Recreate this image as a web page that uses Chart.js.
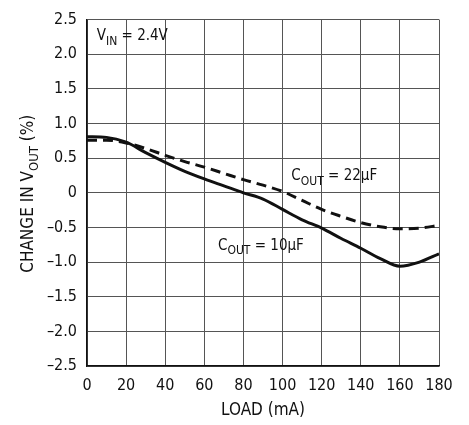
<!DOCTYPE html>
<html lang="en">
<head>
  <meta charset="UTF-8" />
  <title>Change in VOUT vs Load</title>
  <script src="https://cdn.jsdelivr.net/npm/chart.js"></script>
  <style>
    html, body {
      margin: 0;
      padding: 0;
      background: #fff;
    }
    #wrap {
      width: 469px;
      height: 425px;
    }
  </style>
</head>
<body>
  <div id="wrap"><canvas id="loadChart" width="469" height="425"></canvas></div>

  <script>
    // ------------------------------------------
    // Data
    // ------------------------------------------
    const LOADS = [0, 10, 20, 30, 40, 50, 60, 70, 80, 90, 100, 110, 120, 130, 140, 150, 160, 170, 180];
    const COUT_10UF = [0.81, 0.80, 0.73, 0.58, 0.44, 0.31, 0.20, 0.10, 0.00, -0.09, -0.24, -0.39, -0.51, -0.66, -0.80, -0.95, -1.06, -1.00, -0.88];
    const COUT_22UF = [0.76, 0.76, 0.72, 0.64, 0.54, 0.45, 0.37, 0.28, 0.19, 0.11, 0.02, -0.11, -0.24, -0.34, -0.43, -0.49, -0.52, -0.51, -0.47];
    const X_TICKS = [0, 20, 40, 60, 80, 100, 120, 140, 160, 180];
    const Y_TICKS = [-2.5, -2.0, -1.5, -1.0, -0.5, 0, 0.5, 1.0, 1.5, 2.0, 2.5];

    const FONT = '"Liberation Sans Narrow", "DejaVu Sans Condensed", Arial, sans-serif';

    // text labels inside the plot: [main, subscript, rest, x value, y value]
    const LABELS = [
      ['V', 'IN', ' = 2.4V', 5, 2.2],
      ['C', 'OUT', ' = 22µF', 104.5, 0.18],
      ['C', 'OUT', ' = 10µF', 67, -0.82]
    ];

    function toPoints(ys) {
      return LOADS.map((x, i) => ({ x: x, y: ys[i] }));
    }

    // draws "prefix + main + subscript + rest" text at a pixel position
    function drawSubText(ctx, x, y, prefix, main, sub, rest, size, rotate) {
      ctx.save();
      ctx.translate(x, y);
      if (rotate) ctx.rotate(-Math.PI / 2);
      ctx.fillStyle = '#111';
      ctx.textBaseline = 'alphabetic';
      ctx.textAlign = 'left';
      const bigFont = size + 'px ' + FONT;
      const smallFont = Math.round(size * 0.78) + 'px ' + FONT;
      ctx.font = bigFont;
      const w0 = ctx.measureText(prefix).width;
      const w1 = ctx.measureText(main).width;
      const w3 = ctx.measureText(rest).width;
      ctx.font = smallFont;
      const w2 = ctx.measureText(sub).width;
      const total = w0 + w1 + w2 + w3;
      let pos = rotate ? -total / 2 : 0;
      ctx.font = bigFont;
      ctx.fillText(prefix + main, pos, 0);
      pos += w0 + w1;
      ctx.font = smallFont;
      ctx.fillText(sub, pos, size * 0.28);
      pos += w2;
      ctx.font = bigFont;
      ctx.fillText(rest, pos, 0);
      ctx.restore();
    }

    const textPlugin = {
      id: 'textPlugin',
      afterDraw(chart) {
        const ctx = chart.ctx;
        const xs = chart.scales.x;
        const ys = chart.scales.y;
        LABELS.forEach(l => {
          drawSubText(ctx, xs.getPixelForValue(l[3]), ys.getPixelForValue(l[4]), '', l[0], l[1], l[2], 15, false);
        });
        // y axis title with subscript
        const cy = (chart.chartArea.top + chart.chartArea.bottom) / 2 + 1;
        drawSubText(ctx, 33, cy, 'CHANGE IN ', 'V', 'OUT', ' (%)', 17, true);
      }
    };

    window.addEventListener('DOMContentLoaded', () => {
      const ctx = document.getElementById('loadChart').getContext('2d');

      new Chart(ctx, {
        type: 'line',
        data: {
          datasets: [
            {
              label: 'COUT = 10µF',
              data: toPoints(COUT_10UF),
              borderColor: '#111',
              borderWidth: 3,
              pointRadius: 0,
              cubicInterpolationMode: 'monotone',
              fill: false
            },
            {
              label: 'COUT = 22µF',
              data: toPoints(COUT_22UF),
              borderColor: '#111',
              borderWidth: 3,
              borderDash: [10, 6],
              pointRadius: 0,
              cubicInterpolationMode: 'monotone',
              fill: false
            }
          ]
        },
        options: {
          responsive: false,
          animation: false,
          layout: { padding: { top: 15, right: 30, left: 0, bottom: 0 } },
          scales: {
            x: {
              type: 'linear',
              min: 0,
              max: 180,
              afterBuildTicks: s => { s.ticks = X_TICKS.map(v => ({ value: v })); },
              afterFit: s => { s.height = 59; },
              grid: { color: '#555', lineWidth: 1, drawTicks: false },
              border: { color: '#111', width: 1.5 },
              ticks: {
                color: '#111',
                padding: 10,
                maxRotation: 0,
                font: { family: FONT, size: 16 }
              },
              title: {
                display: true,
                text: 'LOAD (mA)',
                color: '#111',
                padding: { top: 1 },
                font: { family: FONT, size: 17 }
              }
            },
            y: {
              min: -2.5,
              max: 2.5,
              afterBuildTicks: s => { s.ticks = Y_TICKS.map(v => ({ value: v })); },
              afterFit: s => { s.width = 87; },
              grid: { color: '#555', lineWidth: 1, drawTicks: false },
              border: { color: '#111', width: 1.5 },
              ticks: {
                color: '#111',
                padding: 10,
                font: { family: FONT, size: 16 },
                callback: v => v === 0 ? '0' : v.toFixed(1).replace('-', '–')
              }
            }
          },
          plugins: {
            legend: { display: false },
            tooltip: { enabled: false }
          }
        },
        plugins: [textPlugin]
      });
    });
  </script>
</body>
</html>
